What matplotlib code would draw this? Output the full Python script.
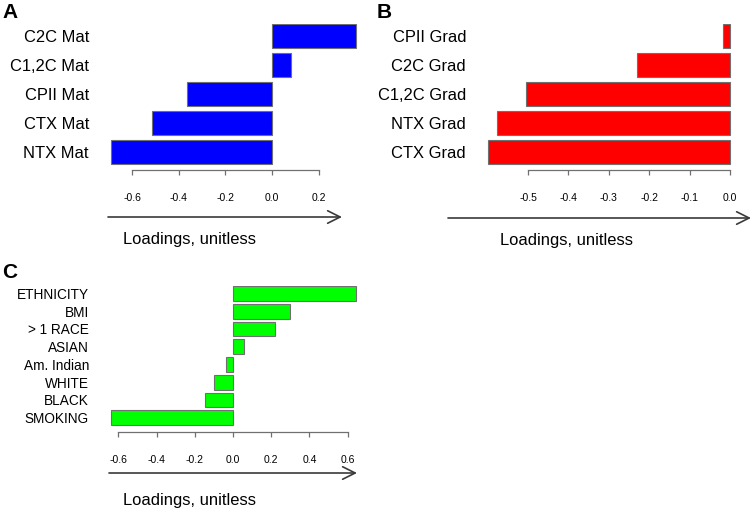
import matplotlib
matplotlib.use("Agg")
from matplotlib import pyplot as plt

plt.rcParams['font.family'] = ['Liberation Sans', 'DejaVu Sans']

# panel A - maturation loadings (top to bottom)
mat_labels = ["C2C Mat", "C1,2C Mat", "CPII Mat", "CTX Mat", "NTX Mat"]
mat_values = [0.36, 0.082, -0.365, -0.515, -0.69]
mat_ticks = [-0.6, -0.4, -0.2, 0.0, 0.2]

# panel B - gradient loadings
grad_labels = ["CPII Grad", "C2C Grad", "C1,2C Grad", "NTX Grad", "CTX Grad"]
grad_values = [-0.017, -0.23, -0.505, -0.577, -0.6]
grad_ticks = [-0.5, -0.4, -0.3, -0.2, -0.1, 0.0]

# panel C - covariate loadings
cov_labels = ["ETHNICITY", "BMI", "> 1 RACE", "ASIAN", "Am. Indian", "WHITE", "BLACK", "SMOKING"]
cov_values = [0.645, 0.30, 0.222, 0.058, -0.038, -0.10, -0.147, -0.64]
cov_ticks = [-0.6, -0.4, -0.2, 0.0, 0.2, 0.4, 0.6]

W, H = 752, 511
fig = plt.figure(figsize=(W / 100, H / 100), dpi=100)


def px_axes(x0, y0, x1, y1):
    # pixel box (top-left origin) -> figure axes
    return fig.add_axes([x0 / W, 1 - y1 / H, (x1 - x0) / W, (y1 - y0) / H])


def panel(box, xlim, ylim_bottom, labels, values, ticks, color, label_size, label_pad,
          arrow_x, arrow_y, title_xy, letter, letter_xy):
    ax = px_axes(*box)
    n = len(labels)
    pos = [(n - 1 - i) * 1.2 for i in range(n)]
    ax.barh(pos, values, height=1.0, color=color, edgecolor="#707070", linewidth=0.8)
    ax.set_xlim(*xlim)
    ax.set_ylim(ylim_bottom, (n - 1) * 1.2 + 0.5)
    ax.set_yticks(pos)
    ax.set_yticklabels(labels, fontsize=label_size)
    ax.tick_params(axis="y", length=0, pad=label_pad)
    ax.set_xticks(ticks)
    ax.set_xticklabels([f"{t:.1f}" for t in ticks], fontsize=7.5)
    ax.tick_params(axis="x", length=3.6, width=0.9, color="#707070", pad=13)
    for s in ["top", "right", "left"]:
        ax.spines[s].set_visible(False)
    ax.spines["bottom"].set_bounds(ticks[0], ticks[-1])
    ax.spines["bottom"].set_color("#707070")
    ax.spines["bottom"].set_linewidth(0.9)
    ax.patch.set_alpha(0)

    # arrow under the axis
    fig.add_artist(matplotlib.patches.FancyArrowPatch(
        (arrow_x[0] / W, 1 - arrow_y / H), (arrow_x[1] / W, 1 - arrow_y / H),
        transform=fig.transFigure, arrowstyle="->,head_length=0.9,head_width=0.45",
        color="#3a3a3a", linewidth=1.2, mutation_scale=10, shrinkA=0, shrinkB=0))
    fig.text(title_xy[0] / W, 1 - title_xy[1] / H, "Loadings, unitless",
             fontsize=11.9, ha="left", va="center")
    fig.text(letter_xy[0] / W, 1 - letter_xy[1] / H, letter,
             fontsize=15, fontweight="bold", ha="left", va="center")
    return ax


# A: 0 at x=272, 233 px per unit
panel((100, 24, 360, 170), ((100 - 272) / 233, (360 - 272) / 233), -0.75,
      mat_labels, mat_values, mat_ticks, "#0000FF", 11.9, 8,
      (108, 342), 217, (123, 239), "A", (2, 12))

# B: 0 at x=730, 404 px per unit
panel((480, 24, 740, 170), ((480 - 730) / 404, (740 - 730) / 404), -0.75,
      grad_labels, grad_values, grad_ticks, "#FF0000", 11.9, 10,
      (448, 751), 218, (500, 240), "B", (377, 12))

# C: 0 at x=233, 191 px per unit
panel((100, 286, 365, 432), ((100 - 233) / 191, (365 - 233) / 191), -0.97,
      cov_labels, cov_values, cov_ticks, "#00FF00", 9.8, 8,
      (109, 357), 473, (123, 500), "C", (2, 272))

fig.savefig("out.png", dpi=100)
